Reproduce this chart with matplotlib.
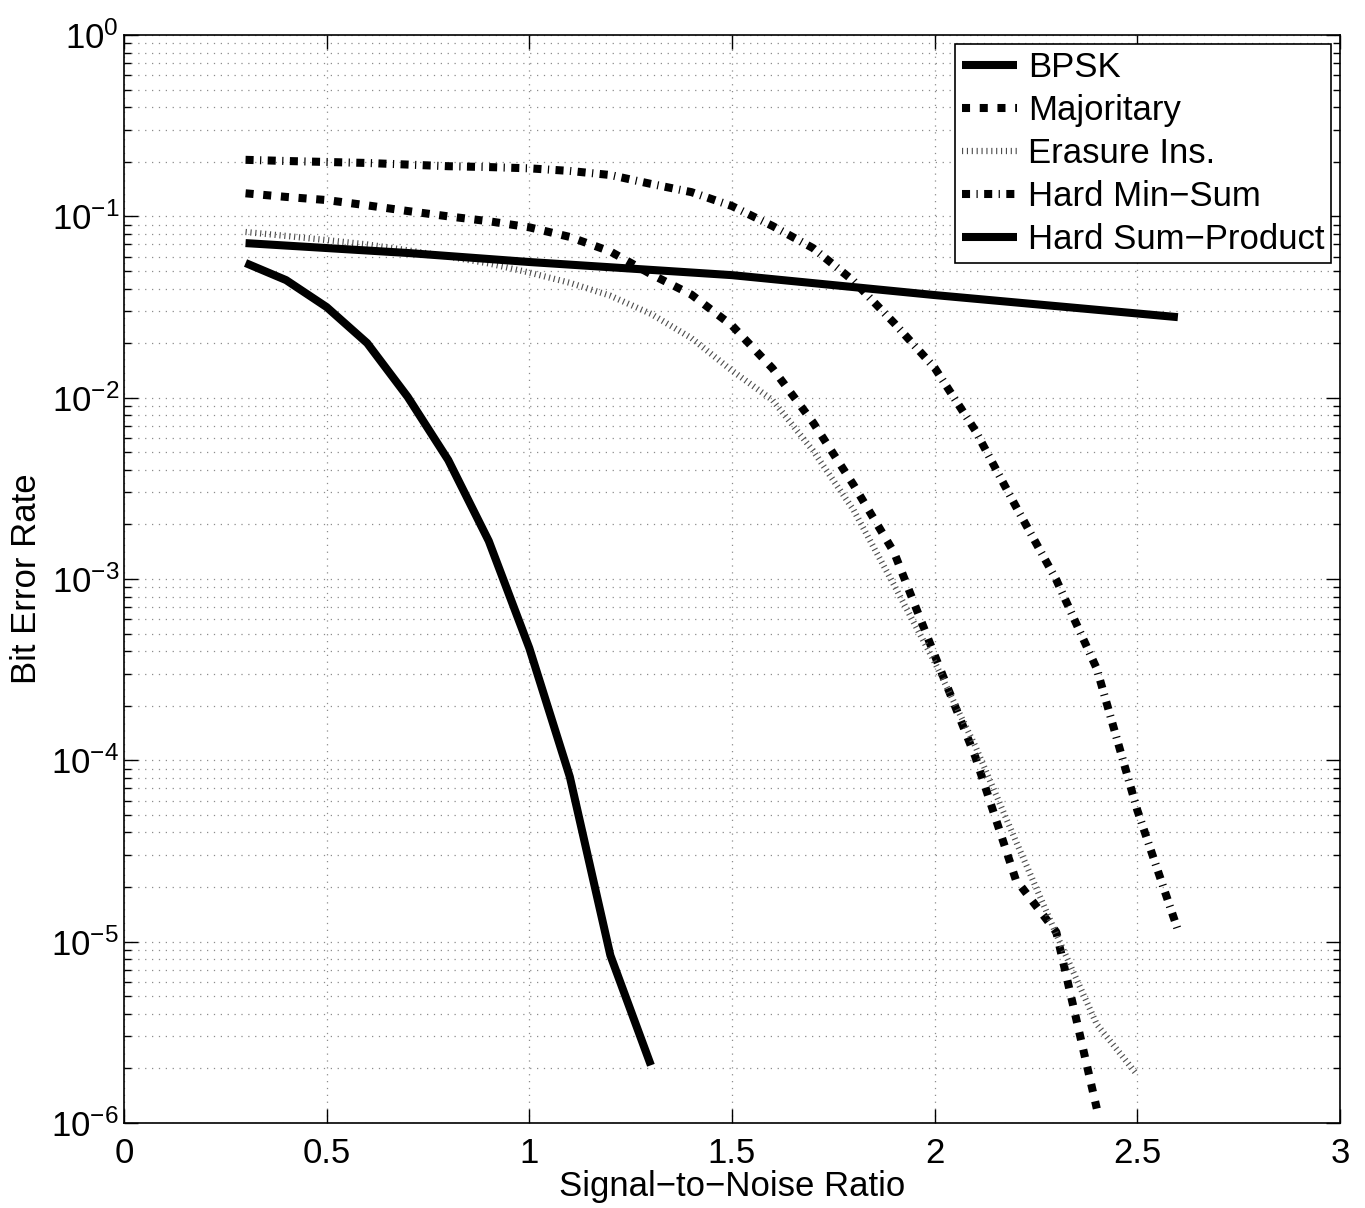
import numpy as np
import matplotlib
matplotlib.use('Agg')
import matplotlib.pyplot as plt
from matplotlib.ticker import LogLocator, FixedLocator, NullFormatter

plt.rcParams['font.family'] = ['Liberation Sans', 'DejaVu Sans']
plt.rcParams['mathtext.fontset'] = 'custom'
plt.rcParams['mathtext.rm'] = 'Liberation Sans'
plt.rcParams['mathtext.it'] = 'Liberation Sans'
plt.rcParams['mathtext.bf'] = 'Liberation Sans'

# data
snr_bpsk = [0.3, 0.4, 0.5, 0.6, 0.7, 0.8, 0.9, 1.0, 1.1, 1.2, 1.3]
ber_bpsk = [0.0553, 0.0445, 0.0316, 0.020, 0.0101, 0.00453, 0.00162, 4.16e-4, 8.1e-5, 8.4e-6, 2.08e-6]

snr_maj = [0.3, 0.4, 0.5, 0.6, 0.7, 0.8, 0.9, 1.0, 1.1, 1.2, 1.3, 1.4, 1.5, 1.6, 1.7, 1.8, 1.9, 2.0, 2.1, 2.2, 2.3, 2.4]
ber_maj = [0.134, 0.128, 0.123, 0.115, 0.107, 0.100, 0.094, 0.087, 0.077, 0.064, 0.048, 0.037, 0.025, 0.0145,
           0.0073, 0.0033, 0.0014, 3.8e-4, 1.05e-4, 2.2e-5, 1.13e-5, 1.2e-6]

snr_era = [0.3, 0.4, 0.5, 0.6, 0.7, 0.8, 0.9, 1.0, 1.1, 1.2, 1.3, 1.4, 1.5, 1.6, 1.7, 1.8, 1.9, 2.0, 2.1, 2.2, 2.3, 2.4, 2.5]
ber_era = [0.082, 0.078, 0.074, 0.070, 0.065, 0.060, 0.055, 0.049, 0.043, 0.0365, 0.029, 0.0213, 0.0141, 0.0097,
           0.0051, 0.0024, 9.25e-4, 3.48e-4, 1.2e-4, 3.6e-5, 1.1e-5, 3.5e-6, 1.84e-6]

snr_ms = [0.3, 0.4, 0.5, 0.6, 0.7, 0.8, 0.9, 1.0, 1.1, 1.2, 1.3, 1.4, 1.5, 1.6, 1.7, 1.8, 1.9, 2.0, 2.1, 2.2, 2.3, 2.4, 2.5, 2.6]
ber_ms = [0.205, 0.202, 0.1995, 0.197, 0.193, 0.189, 0.187, 0.184, 0.178, 0.169, 0.151, 0.136, 0.114, 0.0885,
          0.0668, 0.044, 0.0258, 0.0146, 0.0066, 0.00252, 9.9e-4, 3.2e-4, 5.3e-5, 1.16e-5]

snr_sp = [0.3, 0.7, 1.0, 1.5, 2.0, 2.6]
ber_sp = [0.0712, 0.0628, 0.056, 0.0474, 0.0368, 0.0278]

labels = ['BPSK', 'Majoritary', 'Erasure Ins.', 'Hard Min\u2212Sum', 'Hard Sum\u2212Product']

fig = plt.figure(figsize=(13.65, 12.08), dpi=100)
ax = fig.add_axes([0.0908, 0.0704, 0.8909, 0.9006])

lw = 5.8
ax.plot(snr_bpsk, ber_bpsk, color='k', lw=lw, solid_capstyle='butt', label=labels[0])
ax.plot(snr_maj, ber_maj, color='k', lw=lw, linestyle=(0, (1.0, 1.2)), dash_capstyle='butt', label=labels[1])
ax.plot(snr_era, ber_era, color='0.3', lw=4.5, linestyle=(0, (0.18, 0.6)), dash_capstyle='butt', label=labels[2])
ax.plot(snr_ms, ber_ms, color='k', lw=lw, linestyle=(0, (1.0, 0.8, 0.15, 0.8)), dash_capstyle='butt', label=labels[3])
ax.plot(snr_sp, ber_sp, color='k', lw=lw, solid_capstyle='butt', label=labels[4])

ax.set_yscale('log')
ax.set_xlim(0, 3)
ax.set_ylim(1e-6, 1)
ax.xaxis.set_major_locator(FixedLocator([0, 0.5, 1, 1.5, 2, 2.5, 3]))
ax.set_xticklabels(['0', '0.5', '1', '1.5', '2', '2.5', '3'])
ax.yaxis.set_major_locator(LogLocator(base=10, numticks=10))
ax.yaxis.set_minor_locator(LogLocator(base=10, subs=np.arange(2, 10), numticks=100))
ax.yaxis.set_minor_formatter(NullFormatter())

ax.grid(True, which='major', axis='both', color='0.55', linestyle=(0, (1, 4.5)), lw=0.9)
ax.grid(True, which='minor', axis='y', color='0.55', linestyle=(0, (1, 4.5)), lw=0.9)

ax.tick_params(which='both', direction='in', top=True, right=True, labelsize=25, width=1)
ax.tick_params(which='major', length=10)
ax.tick_params(which='minor', length=5)
ax.tick_params(axis='x', pad=10)
for s in ax.spines.values():
    s.set_linewidth(1.2)

ax.set_xlabel('Signal\u2212to\u2212Noise Ratio', fontsize=25, labelpad=0)
ax.set_ylabel('Bit Error Rate', fontsize=25, labelpad=6)

leg = ax.legend(loc='upper right', fontsize=25, frameon=True, fancybox=False, handlelength=1.6,
                handletextpad=0.3, borderpad=0.2, labelspacing=0.29, borderaxespad=0.25)
leg.get_frame().set_edgecolor('k')
leg.get_frame().set_linewidth(1.2)
leg.get_frame().set_alpha(1)

fig.savefig('out.png', dpi=100)
